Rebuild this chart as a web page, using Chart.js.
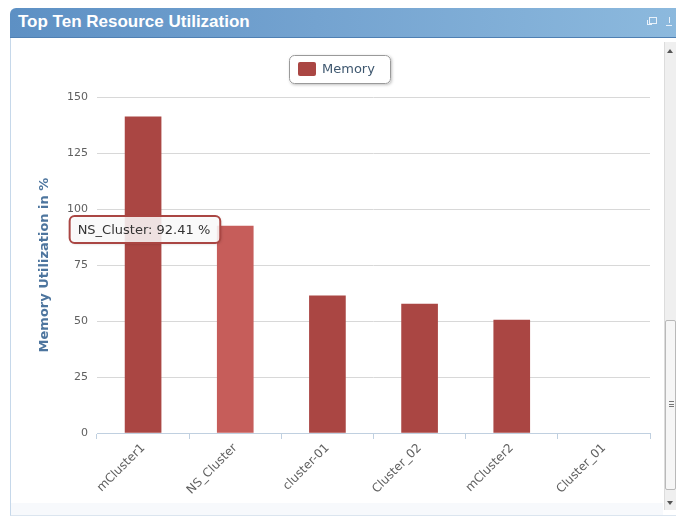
<!DOCTYPE html>
<html>
<head>
<meta charset="utf-8">
<title>Top Ten Resource Utilization</title>
<script src="https://cdn.jsdelivr.net/npm/chart.js@4.4.1/dist/chart.umd.min.js"></script>
<style>
  html, body { margin: 0; padding: 0; background: #fff; }
  body { width: 676px; height: 521px; position: relative; overflow: hidden; font-family: "Liberation Sans", Arial, sans-serif; }
  .panel-head {
    position: absolute; left: 10px; top: 8px; width: 680px; height: 30px;
    border-radius: 6px 0 0 0;
    background: linear-gradient(to right, #5d90c4 0%, #74a3d0 45%, #8dbade 100%);
    border-bottom: 1px solid #4f80b3;
    box-sizing: border-box;
  }
  .panel-head h2 {
    margin: 0; position: absolute; left: 8px; top: 4px;
    font-size: 17px; font-weight: bold; color: #fff;
  }
  .icon { position: absolute; top: 9px; width: 6px; height: 5px; border: 1px solid #e8f1fa; }
  .icon.a { left: 639px; }
  .icon.a:before { content: ""; position: absolute; left: -3px; top: 2px; width: 4px; height: 4px; border-left: 1px solid #e8f1fa; border-bottom: 1px solid #e8f1fa; }
  .icon.b { left: 656px; border: none; border-bottom: 1px solid #e8f1fa; height: 8px; }
  .icon.b:before { content: ""; position: absolute; left: 3px; top: 0; width: 1px; height: 6px; background: #e8f1fa; }
  .panel-body {
    position: absolute; left: 10px; top: 38px; width: 680px; height: 478px;
    border-left: 1px solid #c6d8ea; border-bottom: 1px solid #dbe5ef;
    box-sizing: border-box; background: #fff;
  }
  .foot { position: absolute; left: 11px; top: 503px; width: 652px; height: 12px; background: #f7f9fc; }
  .scroll { position: absolute; left: 664px; top: 42px; width: 12px; height: 468px; background: #efefef; border-left: 1px solid #dcdcdc; box-sizing: border-box; }
  .scroll .up, .scroll .down { position: absolute; left: 2px; width: 0; height: 0; border-left: 3px solid transparent; border-right: 3px solid transparent; }
  .scroll .up { top: 7px; border-bottom: 4px solid #555; }
  .scroll .down { top: 459px; border-top: 4px solid #555; }
  .scroll .thumb { position: absolute; left: 0; top: 278px; width: 11px; height: 170px; background: #f6f6f6; border: 1px solid #b9b9b9; border-radius: 2px; box-sizing: border-box; }
  .scroll .grip { position: absolute; left: 3px; top: 80px; width: 5px; height: 6px; border-top: 1px solid #777; border-bottom: 1px solid #777; box-sizing: border-box; }
  .scroll .grip:after { content: ""; position: absolute; left: 0; top: 2px; width: 5px; height: 1px; background: #777; }
  #chart { position: absolute; left: 0; top: 0; }
</style>
</head>
<body>
<div class="panel-head">
  <h2>Top Ten Resource Utilization</h2>
  <div class="icon a"></div>
  <div class="icon b"></div>
</div>
<div class="panel-body"></div>
<div class="foot"></div>
<div class="scroll"><div class="up"></div><div class="thumb"><div class="grip"></div></div><div class="down"></div></div>
<canvas id="chart" width="676" height="521"></canvas>
<script>
// memory utilization per cluster (%)
const clusters = ['mCluster1', 'NS_Cluster', 'cluster-01', 'Cluster_02', 'mCluster2', 'Cluster_01'];
const memoryUsage = [141.2, 92.41, 61.2, 57.6, 50.4, 0];
const yTicks = [0, 25, 50, 75, 100, 125, 150];
const seriesName = 'Memory';
const highlighted = 1; // bar under the pointer

const barColor = '#aa4643';
const hoverColor = '#c65d5a';
const fontFamily = '"DejaVu Sans", Verdana, sans-serif';

// legend box drawn Highcharts-style: rounded frame with soft shadow
const legendBox = {
    id: 'legendBox',
    afterDraw(chart) {
        const ctx = chart.ctx;
        const x = 289, y = 55, w = 102, h = 29;
        ctx.save();
        ctx.shadowColor = 'rgba(0,0,0,0.25)';
        ctx.shadowBlur = 3;
        ctx.shadowOffsetX = 1;
        ctx.shadowOffsetY = 1;
        ctx.fillStyle = '#fff';
        ctx.beginPath();
        ctx.roundRect(x, y, w, h, 5);
        ctx.fill();
        ctx.shadowColor = 'transparent';
        ctx.strokeStyle = '#9a9a9a';
        ctx.lineWidth = 1;
        ctx.beginPath();
        ctx.roundRect(x + 0.5, y + 0.5, w - 1, h - 1, 5);
        ctx.stroke();
        ctx.fillStyle = chart.data.datasets[0].borderColor;
        ctx.beginPath();
        ctx.roundRect(x + 9, y + 7, 18, 14, 2);
        ctx.fill();
        ctx.fillStyle = '#3e576f';
        ctx.font = '13px ' + fontFamily;
        ctx.textBaseline = 'middle';
        ctx.fillText(chart.data.datasets[0].label, x + 33, y + 15);
        ctx.restore();
    }
};

// hover label for the highlighted bar, placed to its left
const hoverLabel = {
    id: 'hoverLabel',
    afterDraw(chart) {
        const bar = chart.getDatasetMeta(0).data[highlighted];
        if (!bar) return;
        const ctx = chart.ctx;
        const text = clusters[highlighted] + ': ' + memoryUsage[highlighted].toFixed(2) + ' %';
        ctx.save();
        ctx.font = '13px ' + fontFamily;
        const tw = ctx.measureText(text).width;
        const w = tw + 18, h = 27;
        const right = bar.x - bar.width / 2 + 3;
        const x = right - w, y = bar.y - 10;
        ctx.shadowColor = 'rgba(0,0,0,0.2)';
        ctx.shadowBlur = 3;
        ctx.shadowOffsetX = 1;
        ctx.shadowOffsetY = 1;
        ctx.fillStyle = 'rgba(255,255,255,0.85)';
        ctx.beginPath();
        ctx.roundRect(x, y, w, h, 5);
        ctx.fill();
        ctx.shadowColor = 'transparent';
        ctx.strokeStyle = barColor;
        ctx.lineWidth = 2;
        ctx.stroke();
        ctx.fillStyle = '#333';
        ctx.textBaseline = 'middle';
        ctx.fillText(text, x + 8, y + h / 2 + 1);
        ctx.restore();
    }
};

new Chart(document.getElementById('chart'), {
    type: 'bar',
    data: {
        labels: clusters,
        datasets: [{
            label: seriesName,
            data: memoryUsage,
            // zero-height bars stay invisible
            backgroundColor: memoryUsage.map((v, i) => v === 0 ? 'rgba(0,0,0,0)' : (i === highlighted ? hoverColor : barColor)),
            borderColor: barColor,
            borderWidth: 0,
            barThickness: 36
        }]
    },
    options: {
        responsive: false,
        animation: false,
        events: [],
        layout: { padding: { top: 97, right: 26, left: 0, bottom: 0 } },
        plugins: {
            legend: { display: false },
            tooltip: { enabled: false }
        },
        scales: {
            x: {
                offset: true,
                grid: {
                    offset: true,
                    drawOnChartArea: false,
                    drawTicks: true,
                    tickLength: 6,
                    color: '#c0d0e0'
                },
                border: { color: '#c0d0e0', width: 1 },
                ticks: {
                    minRotation: 45,
                    maxRotation: 45,
                    padding: 2,
                    color: '#606060',
                    font: { family: fontFamily, size: 12 }
                },
                afterFit(scale) { scale.height = 88; }
            },
            y: {
                min: 0,
                max: 150,
                afterBuildTicks(scale) { scale.ticks = yTicks.map(v => ({ value: v })); },
                grid: { color: '#d8d8d8', drawTicks: false },
                border: { display: false },
                ticks: {
                    padding: 9,
                    color: '#606060',
                    font: { family: fontFamily, size: 11 }
                },
                title: {
                    display: true,
                    text: 'Memory Utilization in %',
                    color: '#4d759e',
                    padding: { top: 37 },
                    font: { family: fontFamily, size: 13, weight: 'bold' }
                },
                afterFit(scale) { scale.width = 97; }
            }
        }
    },
    plugins: [legendBox, hoverLabel]
});
</script>
</body>
</html>
